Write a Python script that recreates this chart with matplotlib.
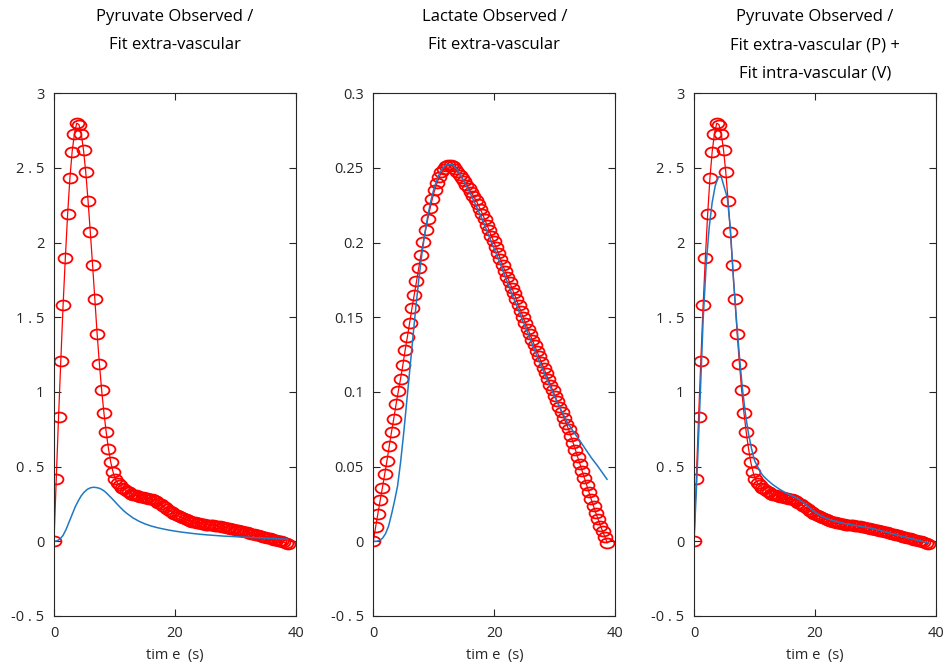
import numpy as np
import matplotlib.pyplot as plt
from matplotlib.path import Path
from matplotlib.transforms import Affine2D

plt.rcParams['font.family'] = ['Open Sans', 'DejaVu Sans']

# sampling interval of the observed curves (s)
dt = 0.375

pyr_obs = [0.0, 0.42, 0.83, 1.21, 1.58, 1.90, 2.19, 2.43, 2.61, 2.73,
           2.80, 2.79, 2.73, 2.62, 2.47, 2.28, 2.07, 1.85, 1.62, 1.39,
           1.19, 1.01, 0.86, 0.73, 0.62, 0.53, 0.465, 0.415, 0.39, 0.375,
           0.36, 0.35, 0.338, 0.328, 0.32, 0.313, 0.307, 0.302, 0.298, 0.294,
           0.29, 0.287, 0.284, 0.28, 0.274, 0.267, 0.259, 0.249, 0.238, 0.227,
           0.216, 0.205, 0.195, 0.185, 0.176, 0.168, 0.16, 0.153, 0.147, 0.141,
           0.136, 0.131, 0.127, 0.123, 0.12, 0.117, 0.114, 0.112, 0.11, 0.108,
           0.106, 0.104, 0.102, 0.1, 0.097, 0.094, 0.091, 0.088, 0.085, 0.082,
           0.079, 0.075, 0.071, 0.067, 0.063, 0.059, 0.055, 0.051, 0.047, 0.043,
           0.039, 0.035, 0.031, 0.027, 0.023, 0.019, 0.015, 0.011, 0.007, 0.003,
           -0.001, -0.006, -0.011, -0.016]

lac_obs = [0.0, 0.0096, 0.0185, 0.0274, 0.036, 0.045, 0.054, 0.0638, 0.0733, 0.0822,
           0.0917, 0.1006, 0.109, 0.118, 0.128, 0.137, 0.1465, 0.156, 0.165, 0.174,
           0.183, 0.192, 0.2005, 0.2085, 0.216, 0.223, 0.2295, 0.235, 0.2398, 0.2438,
           0.247, 0.2495, 0.251, 0.2518, 0.252, 0.251, 0.2495, 0.2475, 0.2455, 0.2433,
           0.241, 0.2388, 0.2365, 0.234, 0.2315, 0.2288, 0.226, 0.2228, 0.2195, 0.2158,
           0.212, 0.2083, 0.2045, 0.2008, 0.197, 0.193, 0.189, 0.185, 0.181, 0.1773,
           0.1735, 0.1698, 0.166, 0.162, 0.158, 0.154, 0.150, 0.1463, 0.1425, 0.1388,
           0.135, 0.1313, 0.1275, 0.1238, 0.120, 0.1163, 0.1125, 0.1088, 0.105, 0.1013,
           0.0975, 0.0938, 0.090, 0.0863, 0.0825, 0.0788, 0.075, 0.0705, 0.066, 0.0613,
           0.0565, 0.0518, 0.047, 0.0423, 0.0375, 0.0328, 0.028, 0.0235, 0.019, 0.0148,
           0.0105, 0.0068, 0.003, -0.001]

t_obs = np.arange(len(pyr_obs)) * dt

fit_time = [0, 0.5, 1, 1.5, 2, 2.5, 3, 3.5, 4, 4.5, 5, 5.5, 6, 6.5, 7, 7.5,
            8, 8.5, 9, 9.5, 10, 10.5, 11, 11.5, 12, 13, 14, 15, 16, 17, 18, 19,
            20, 21, 22, 23, 24, 25, 26, 27, 28, 29, 30, 31, 32, 33, 34, 35, 36,
            37, 38, 38.6]

pyr_fit_ev = [0.0, 0.003, 0.015, 0.04, 0.08, 0.13, 0.18, 0.23, 0.27, 0.305,
              0.33, 0.348, 0.358, 0.362, 0.36, 0.355, 0.345, 0.33, 0.31, 0.29,
              0.268, 0.246, 0.225, 0.205, 0.188, 0.158, 0.135, 0.117, 0.103, 0.092,
              0.083, 0.075, 0.068, 0.062, 0.057, 0.052, 0.048, 0.044, 0.041, 0.038,
              0.035, 0.033, 0.031, 0.029, 0.027, 0.025, 0.023, 0.021, 0.019, 0.017,
              0.015, 0.014]

lac_fit_ev = [0.0, 0.0, 0.0005, 0.002, 0.005, 0.01, 0.018, 0.027, 0.037, 0.053,
              0.072, 0.093, 0.114, 0.135, 0.156, 0.175, 0.192, 0.206, 0.218, 0.228,
              0.236, 0.242, 0.247, 0.250, 0.252, 0.2525, 0.248, 0.241, 0.233, 0.2245,
              0.2155, 0.2055, 0.1955, 0.1855, 0.175, 0.1645, 0.1545, 0.1445, 0.1345, 0.1245,
              0.115, 0.1055, 0.0965, 0.088, 0.08, 0.0737, 0.068, 0.062, 0.056, 0.0507,
              0.045, 0.0415]

pyr_fit_pv = [0.0, 0.45, 0.95, 1.48, 1.85, 2.10, 2.27, 2.38, 2.44, 2.44,
              2.37, 2.30, 2.10, 1.76, 1.49, 1.24, 1.02, 0.85, 0.72, 0.62,
              0.54, 0.50, 0.46, 0.435, 0.415, 0.38, 0.352, 0.328, 0.308, 0.29,
              0.262, 0.228, 0.195, 0.17, 0.152, 0.138, 0.127, 0.118, 0.111, 0.104,
              0.097, 0.09, 0.081, 0.07, 0.059, 0.048, 0.037, 0.027, 0.017, 0.007,
              -0.003, -0.01]

titles = ["Pyruvate Observed /\nFit extra-vascular",
          "Lactate Observed /\nFit extra-vascular",
          "Pyruvate Observed /\nFit extra-vascular (P) +\nFit intra-vascular (V)"]

pyr_yticks = [-0.5, 0, 0.5, 1, 1.5, 2, 2.5, 3]
pyr_ylabels = ["-0 . 5", "0", "0 . 5", "1", "1 . 5", "2", "2 . 5", "3"]
lac_yticks = [-0.05, 0, 0.05, 0.1, 0.15, 0.2, 0.25, 0.3]
lac_ylabels = ["-0 . 5", "0", "0.05", "0.1", "0.15", "0.2", "0.25", "0.3"]
xticks = [0, 20, 40]

RED = "#ff0000"
BLUE = "#1f78c4"
AXC = "#262626"

# Octave's circles come out a bit wider than tall
ellipse = Path.unit_circle().transformed(Affine2D().scale(1.4, 1.0))

fig = plt.figure(figsize=(9.44, 6.67), dpi=100)
lefts = [0.0572, 0.3955, 0.7352]
width, bottom, height = 0.2565, 0.0765, 0.7836

panels = [
    (pyr_obs, pyr_fit_ev, pyr_yticks, pyr_ylabels),
    (lac_obs, lac_fit_ev, lac_yticks, lac_ylabels),
    (pyr_obs, pyr_fit_pv, pyr_yticks, pyr_ylabels),
]

for i, (obs, fit, yt, yl) in enumerate(panels):
    ax = fig.add_axes([lefts[i], bottom, width, height])
    ax.plot(t_obs, obs, color=RED, lw=0.9, marker=ellipse, ms=10,
            mfc="none", mec=RED, mew=1.3)
    ax.plot(fit_time, fit, color=BLUE, lw=1.1)
    ax.set_xlim(0, 40)
    ax.set_ylim(yt[0], yt[-1])
    ax.set_xticks(xticks)
    ax.set_yticks(yt)
    ax.set_yticklabels(yl)
    ax.tick_params(direction="in", length=5, width=0.8, colors=AXC,
                   labelsize=10.5, top=True, right=True, pad=7)
    for sp in ax.spines.values():
        sp.set_color(AXC)
        sp.set_linewidth(0.8)
    ax.set_xlabel("tim e  (s)", fontsize=10.5, color=AXC, labelpad=5)
    fig.text(lefts[i] + width / 2, 1 - 9 / 667, titles[i], ha="center",
             va="top", fontsize=12, linespacing=2.0, color="black")

fig.savefig("out.png", dpi=100)
